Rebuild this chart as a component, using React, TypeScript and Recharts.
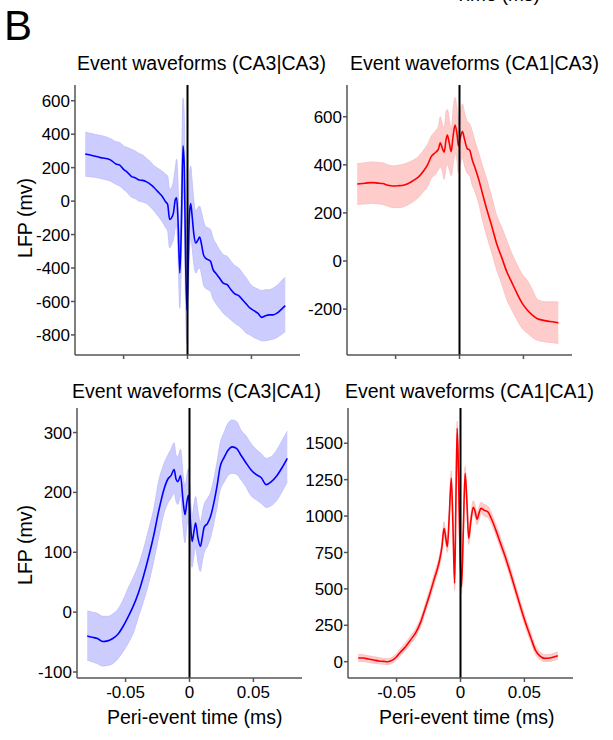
import { Area, ComposedChart, Line, ReferenceLine, XAxis, YAxis } from 'recharts'

const FONT = '"Liberation Sans", Arial, Helvetica, sans-serif'

// CA3|CA3 (top left)
const tCA3CA3 = [-0.08, -0.076, -0.072, -0.068, -0.064, -0.06, -0.056, -0.053, -0.05, -0.047, -0.044, -0.041, -0.038, -0.035, -0.032, -0.029, -0.026, -0.023, -0.02, -0.017, -0.0155, -0.014, -0.0125, -0.011, -0.0095, -0.0085, -0.0075, -0.006, -0.0048, -0.0035, -0.0025, -0.0015, -0.0005, 0.0005, 0.0015, 0.0025, 0.0035, 0.005, 0.0065, 0.008, 0.0095, 0.011, 0.0125, 0.014, 0.016, 0.018, 0.02, 0.022, 0.025, 0.028, 0.031, 0.034, 0.037, 0.04, 0.043, 0.046, 0.049, 0.052, 0.055, 0.058, 0.061, 0.064, 0.067, 0.07, 0.073, 0.0765]
const meanCA3CA3 = [282, 275, 268, 260, 255, 245, 222, 215, 190, 172, 148, 140, 126, 124, 115, 100, 80, 55, 30, -5, -20, -110, -100, -70, 10, 20, -100, -430, -150, 330, 200, -350, -650, -400, -80, -15, -80, -200, -250, -235, -215, -260, -320, -340, -350, -360, -410, -430, -460, -491, -500, -530, -555, -565, -590, -615, -640, -655, -670, -695, -685, -680, -680, -670, -650, -625]
const loCA3CA3 = [150, 145, 142, 135, 128, 118, 100, 90, 70, 50, 25, 15, 0, -5, -15, -35, -60, -90, -120, -160, -180, -280, -260, -230, -160, -150, -300, -640, -380, 80, -100, -650, -850, -650, -300, -220, -270, -380, -430, -410, -400, -440, -500, -520, -530, -540, -585, -610, -640, -670, -690, -710, -730, -745, -765, -790, -800, -815, -825, -835, -835, -830, -825, -815, -800, -780]
const hiCA3CA3 = [412, 405, 398, 392, 385, 372, 355, 350, 330, 320, 310, 300, 285, 275, 255, 235, 210, 195, 180, 160, 150, 70, 80, 120, 200, 250, 120, -220, 120, 615, 500, -50, -380, -150, 150, 210, 130, 0, -60, -40, -30, -70, -120, -150, -160, -170, -220, -250, -290, -320, -330, -360, -385, -400, -430, -460, -495, -515, -525, -535, -530, -530, -520, -505, -480, -455]

// CA1|CA3 (top right)
const tCA1CA3 = [-0.08, -0.076, -0.072, -0.068, -0.064, -0.06, -0.056, -0.052, -0.048, -0.044, -0.04, -0.036, -0.032, -0.028, -0.025, -0.022, -0.019, -0.0165, -0.015, -0.0135, -0.012, -0.0105, -0.0095, -0.008, -0.0065, -0.005, -0.0035, -0.002, -0.0008, 0.0005, 0.0023, 0.004, 0.006, 0.008, 0.01, 0.012, 0.015, 0.018, 0.0215, 0.025, 0.029, 0.033, 0.037, 0.041, 0.045, 0.049, 0.053, 0.057, 0.061, 0.065, 0.069, 0.073, 0.0773]
const meanCA1CA3 = [320, 322, 325, 326, 324, 322, 315, 312, 313, 315, 322, 335, 350, 375, 400, 435, 450, 465, 492, 470, 452, 505, 524, 490, 455, 520, 565, 530, 478, 510, 538, 505, 468, 461, 420, 390, 340, 280, 212, 150, 73, 15, -45, -90, -135, -175, -204, -225, -240, -246, -250, -253, -257]
const loCA1CA3 = [235, 237, 238, 240, 238, 235, 228, 222, 222, 225, 235, 248, 265, 290, 310, 345, 360, 380, 390, 375, 340, 390, 400, 380, 355, 400, 450, 420, 365, 400, 430, 395, 365, 355, 315, 290, 240, 170, 101, 40, -35, -95, -160, -205, -245, -280, -300, -318, -330, -335, -338, -340, -343]
const hiCA1CA3 = [405, 407, 410, 412, 410, 408, 400, 395, 398, 402, 410, 420, 435, 462, 485, 520, 540, 560, 600, 570, 550, 620, 630, 590, 545, 630, 680, 640, 590, 620, 653, 615, 580, 570, 540, 500, 450, 395, 337, 270, 190, 140, 85, 30, -15, -55, -80, -120, -160, -168, -170, -170, -170]

// CA3|CA1 (bottom left)
const tCA3CA1 = [-0.08, -0.076, -0.072, -0.068, -0.064, -0.06, -0.056, -0.052, -0.048, -0.044, -0.04, -0.036, -0.032, -0.028, -0.024, -0.02, -0.017, -0.0145, -0.012, -0.0105, -0.009, -0.007, -0.005, -0.0035, -0.002, -0.0008, 0.0005, 0.002, 0.0035, 0.0048, 0.0065, 0.0085, 0.01, 0.0115, 0.014, 0.0165, 0.019, 0.0215, 0.024, 0.027, 0.03, 0.0335, 0.037, 0.04, 0.044, 0.048, 0.052, 0.056, 0.06, 0.064, 0.068, 0.072, 0.0765]
const meanCA3CA1 = [-40, -42, -44, -49, -48, -44, -37, -24, -8, 10, 32, 60, 92, 128, 170, 205, 222, 228, 238, 222, 218, 228, 185, 163, 185, 195, 160, 118, 135, 149, 125, 110, 125, 142, 148, 160, 182, 210, 243, 258, 270, 276, 273, 263, 250, 238, 230, 225, 213, 218, 227, 240, 257]
const loCA3CA1 = [-80, -83, -86, -90, -89, -86, -78, -66, -52, -35, -8, 18, 48, 85, 126, 165, 182, 190, 199, 185, 180, 195, 140, 116, 145, 150, 110, 75, 95, 108, 85, 68, 85, 100, 110, 125, 148, 175, 204, 217, 228, 232, 230, 222, 210, 195, 188, 182, 175, 178, 186, 200, 218]
const hiCA3CA1 = [2, 0, -2, -7, -7, -3, 5, 20, 40, 58, 78, 105, 138, 172, 220, 248, 262, 272, 283, 262, 260, 272, 230, 210, 230, 240, 200, 160, 180, 193, 170, 150, 165, 180, 190, 200, 222, 250, 282, 300, 315, 321, 318, 305, 295, 282, 272, 265, 257, 260, 270, 285, 302]

// CA1|CA1 (bottom right)
const tCA1CA1 = [-0.08, -0.076, -0.072, -0.068, -0.064, -0.06, -0.057, -0.053, -0.05, -0.047, -0.043, -0.039, -0.035, -0.031, -0.028, -0.024, -0.02, -0.018, -0.0163, -0.0145, -0.0129, -0.0115, -0.0103, -0.0088, -0.0072, -0.0058, -0.0046, -0.0036, -0.0026, -0.0016, -0.0005, 0.0008, 0.0022, 0.0036, 0.005, 0.0064, 0.008, 0.01, 0.0115, 0.0129, 0.0145, 0.016, 0.0185, 0.0212, 0.024, 0.0276, 0.031, 0.035, 0.039, 0.043, 0.047, 0.051, 0.055, 0.0586, 0.062, 0.066, 0.07, 0.073, 0.0761]
const meanCA1CA1 = [25, 25, 18, 12, 5, 2, 0, 12, 34, 65, 103, 150, 200, 275, 355, 465, 584, 640, 700, 790, 916, 850, 790, 1000, 1260, 900, 538, 1100, 1603, 1300, 800, 515, 900, 1294, 1100, 847, 960, 1060, 1030, 978, 1020, 1053, 1040, 1030, 985, 905, 820, 721, 610, 492, 375, 264, 165, 80, 40, 23, 25, 32, 41]
const loCA1CA1 = [0, 2, -5, -10, -15, -18, -20, -8, 12, 40, 78, 122, 172, 245, 325, 432, 548, 605, 665, 755, 875, 810, 750, 955, 1210, 855, 490, 1050, 1555, 1250, 750, 470, 855, 1245, 1055, 805, 920, 1020, 990, 940, 980, 1015, 1000, 990, 950, 870, 785, 685, 575, 458, 342, 232, 135, 52, 15, 0, 2, 8, 15]
const hiCA1CA1 = [50, 48, 40, 35, 28, 22, 20, 34, 56, 90, 130, 178, 228, 305, 385, 498, 620, 675, 735, 825, 960, 890, 830, 1045, 1310, 950, 580, 1150, 1650, 1350, 850, 560, 945, 1340, 1145, 890, 1000, 1105, 1070, 1020, 1060, 1095, 1080, 1070, 1025, 945, 860, 760, 648, 528, 410, 298, 198, 110, 68, 48, 50, 58, 68]

const xTicks = [-0.05, 0, 0.05]
const yTicksCA3CA3 = [600, 400, 200, 0, -200, -400, -600, -800]
const yTicksCA1CA3 = [600, 400, 200, 0, -200]
const yTicksCA3CA1 = [300, 200, 100, 0, -100]
const yTicksCA1CA1 = [1500, 1250, 1000, 750, 500, 250, 0]

type Row = { t: number; mean: number; band: [number, number] }

function rowsOf(t: number[], mean: number[], lo: number[], hi: number[]): Row[] {
  return t.map((x, i) => ({ t: x, mean: mean[i], band: [lo[i], hi[i]] }))
}

const YW = 60
const PW = 225
const PH = 270
const MT = 5
const MR = 5
const XH = 30
const AXIS = '#555'

type PanelProps = {
  plotLeft: number
  plotTop: number
  rows: Row[]
  line: string
  fill: string
  edge: string
  yDomain: [number, number]
  yTicks: number[]
  showX: boolean
}

function Panel({ plotLeft, plotTop, rows, line, fill, edge, yDomain, yTicks, showX }: PanelProps) {
  const tick = { fontSize: 17, fill: '#000', fontFamily: FONT }
  return (
    <div style={{ position: 'absolute', left: plotLeft - YW, top: plotTop - MT }}>
      <ComposedChart width={YW + PW + MR} height={MT + PH + XH} data={rows} margin={{ top: MT, right: MR, left: 0, bottom: 0 }}>
        <XAxis
          dataKey="t"
          type="number"
          domain={[-0.088, 0.088]}
          ticks={xTicks}
          allowDataOverflow
          height={XH}
          axisLine={{ stroke: AXIS, strokeWidth: 1.5 }}
          tickLine={{ stroke: AXIS, strokeWidth: 1.5 }}
          tickSize={4}
          tickMargin={4}
          tick={tick}
          tickFormatter={(v: number) => (showX ? (v === 0 ? '0' : v.toFixed(2)) : '')}
        />
        <YAxis
          type="number"
          domain={yDomain}
          ticks={yTicks}
          allowDataOverflow
          width={YW}
          axisLine={{ stroke: AXIS, strokeWidth: 1.5 }}
          tickLine={{ stroke: AXIS, strokeWidth: 1.5 }}
          tickSize={4}
          tickMargin={1}
          tick={tick}
        />
        <Area type="monotone" dataKey="band" stroke={edge} strokeWidth={0.8} fill={fill} fillOpacity={1} isAnimationActive={false} />
        <Line type="monotone" dataKey="mean" stroke={line} strokeWidth={1.6} dot={false} isAnimationActive={false} />
        <ReferenceLine x={0} stroke="#000" strokeWidth={2} />
      </ComposedChart>
    </div>
  )
}

export default function App() {
  const txt = { fontFamily: FONT, fill: '#000' }
  return (
    <div style={{ position: 'absolute', left: 0, top: 0, width: 613, height: 740, background: '#fff', overflow: 'hidden' }}>
      <Panel plotLeft={75} plotTop={85} rows={rowsOf(tCA3CA3, meanCA3CA3, loCA3CA3, hiCA3CA3)} line="#0000ff" fill="#ccccff" edge="#bdbdf7" yDomain={[-920, 694]} yTicks={yTicksCA3CA3} showX={false} />
      <Panel plotLeft={347} plotTop={85} rows={rowsOf(tCA1CA3, meanCA1CA3, loCA1CA3, hiCA1CA3)} line="#ff0000" fill="#ffcccc" edge="#f7bdbd" yDomain={[-391, 732]} yTicks={yTicksCA1CA3} showX={false} />
      <Panel plotLeft={77} plotTop={408} rows={rowsOf(tCA3CA1, meanCA3CA1, loCA3CA1, hiCA3CA1)} line="#0000ff" fill="#ccccff" edge="#bdbdf7" yDomain={[-110, 341]} yTicks={yTicksCA3CA1} showX />
      <Panel plotLeft={348} plotTop={408} rows={rowsOf(tCA1CA1, meanCA1CA1, loCA1CA1, hiCA1CA1)} line="#ff0000" fill="#ffcccc" edge="#f7bdbd" yDomain={[-112, 1742]} yTicks={yTicksCA1CA1} showX />
      <svg width={613} height={740} style={{ position: 'absolute', left: 0, top: 0, pointerEvents: 'none' }}>
        <text {...txt} x={4} y={40} fontSize={42}>B</text>
        <text {...txt} x={455} y={1} fontSize={19}>Time (ms)</text>
        <text {...txt} x={77} y={69.5} fontSize={19.5}>Event waveforms (CA3|CA3)</text>
        <text {...txt} x={350} y={69.5} fontSize={19.5}>Event waveforms (CA1|CA3)</text>
        <text {...txt} x={72} y={398} fontSize={19.5}>Event waveforms (CA3|CA1)</text>
        <text {...txt} x={345} y={398} fontSize={19.5}>Event waveforms (CA1|CA1)</text>
        <text {...txt} x={107} y={724} fontSize={19.5}>Peri-event time (ms)</text>
        <text {...txt} x={379} y={724} fontSize={19.5}>Peri-event time (ms)</text>
        <text {...txt} x={0} y={0} fontSize={19.5} textAnchor="middle" transform="translate(32,218) rotate(-90)">LFP (mv)</text>
        <text {...txt} x={0} y={0} fontSize={19.5} textAnchor="middle" transform="translate(32,545) rotate(-90)">LFP (mv)</text>
      </svg>
    </div>
  )
}
